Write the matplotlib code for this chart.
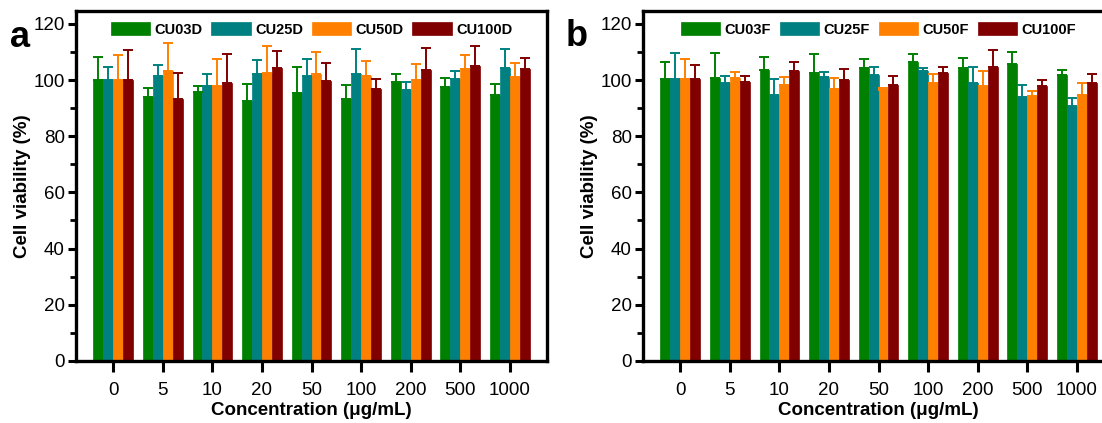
import numpy as np
import matplotlib
matplotlib.use("Agg")
import matplotlib.pyplot as plt
from matplotlib.ticker import MultipleLocator

plt.rcParams['font.family'] = ['Liberation Sans', 'DejaVu Sans']

conc = ['0', '5', '10', '20', '50', '100', '200', '500', '1000']
colors = ['#008000', '#008080', '#ff8000', '#800000']

# panel a: D series, mean and upper SD per concentration
names_d = ['CU03D', 'CU25D', 'CU50D', 'CU100D']
cu03d = [100.0, 94.1, 95.6, 92.7, 95.4, 93.1, 99.2, 97.5, 94.5]
cu25d = [100.0, 101.3, 97.7, 102.2, 101.3, 102.2, 96.6, 100.4, 104.4]
cu50d = [100.0, 103.2, 97.7, 102.5, 102.2, 101.3, 100.0, 104.0, 101.1]
cu100d = [100.0, 93.4, 98.8, 104.4, 99.5, 96.8, 103.4, 105.0, 104.0]
cu03d_sd = [8.1, 3.1, 2.2, 5.9, 9.2, 5.2, 3.1, 3.3, 4.1]
cu25d_sd = [4.8, 4.0, 4.6, 4.9, 6.1, 8.8, 2.7, 2.7, 6.6]
cu50d_sd = [9.0, 10.1, 9.7, 9.6, 7.9, 5.5, 5.6, 4.9, 4.9]
cu100d_sd = [10.7, 9.2, 10.4, 6.0, 6.4, 3.7, 8.0, 7.1, 3.8]

# panel b: F series
names_f = ['CU03F', 'CU25F', 'CU50F', 'CU100F']
cu03f = [100.2, 100.6, 103.6, 102.6, 104.2, 106.5, 104.2, 105.8, 101.9]
cu25f = [100.2, 98.8, 94.7, 101.0, 101.7, 103.1, 98.8, 94.0, 90.8]
cu50f = [100.2, 100.8, 98.3, 96.9, 96.6, 99.0, 97.7, 94.4, 94.7]
cu100f = [100.2, 99.4, 103.1, 99.9, 98.4, 102.4, 104.7, 98.0, 98.8]
cu03f_sd = [6.2, 9.1, 4.6, 6.6, 3.2, 2.7, 3.6, 4.2, 1.7]
cu25f_sd = [9.5, 2.8, 5.5, 2.0, 3.1, 1.0, 6.0, 4.2, 2.8]
cu50f_sd = [7.2, 2.2, 2.9, 3.7, 0.6, 3.3, 5.4, 1.6, 4.3]
cu100f_sd = [5.1, 2.2, 3.3, 3.9, 3.2, 2.4, 6.0, 1.9, 3.5]


def draw_panel(ax, names, means, sds):
    x = np.arange(len(conc))
    w = 0.2
    for i, (name, m, s, c) in enumerate(zip(names, means, sds, colors)):
        pos = x + (i - 1.5) * w
        ax.bar(pos, m, width=w, color=c, edgecolor=c, linewidth=0.5, label=name)
        ax.errorbar(pos, m, yerr=[np.zeros(len(m)), s], fmt='none', ecolor=c,
                    elinewidth=1.4, capsize=3.5, capthick=1.4)
    ax.set_xlim(-0.75, 8.75)
    ax.set_ylim(0, 124.5)
    ax.set_xticks(x)
    ax.set_xticklabels(conc)
    ax.yaxis.set_major_locator(MultipleLocator(20))
    ax.yaxis.set_minor_locator(MultipleLocator(10))
    for sp in ax.spines.values():
        sp.set_linewidth(2.4)
    ax.tick_params(axis='both', which='major', direction='out', width=2.2,
                   labelsize=13.5)
    ax.tick_params(axis='x', which='major', length=8, pad=7)
    ax.tick_params(axis='y', which='major', length=6, pad=2)
    ax.tick_params(axis='y', which='minor', direction='out', length=4, width=2)
    ax.set_xlabel('Concentration (\u03bcg/mL)', fontsize=13.5, fontweight='bold',
                  labelpad=2)
    ax.set_ylabel('Cell viability (%)', fontsize=13.5, fontweight='bold',
                  labelpad=2)
    ax.legend(loc='upper center', bbox_to_anchor=(0.5, 1.0), ncol=4,
              frameon=False, prop={'weight': 'bold', 'size': 10.5},
              handlelength=2.7, handleheight=1.0, handletextpad=0.3,
              columnspacing=0.6, borderaxespad=0.35)


fig = plt.figure(figsize=(11.02, 4.23), dpi=100)
ax_a = fig.add_axes([0.069, 0.1466, 0.4274, 0.827])
ax_b = fig.add_axes([0.5835, 0.1466, 0.4274, 0.827])

draw_panel(ax_a, names_d, [cu03d, cu25d, cu50d, cu100d],
           [cu03d_sd, cu25d_sd, cu50d_sd, cu100d_sd])
draw_panel(ax_b, names_f, [cu03f, cu25f, cu50f, cu100f],
           [cu03f_sd, cu25f_sd, cu50f_sd, cu100f_sd])

fig.text(10 / 1102, 1 - 47 / 423, 'a', fontsize=26, fontweight='bold',
         ha='left', va='baseline')
fig.text(566 / 1102, 1 - 46 / 423, 'b', fontsize=26, fontweight='bold',
         ha='left', va='baseline')

fig.savefig('out.png', dpi=100)
